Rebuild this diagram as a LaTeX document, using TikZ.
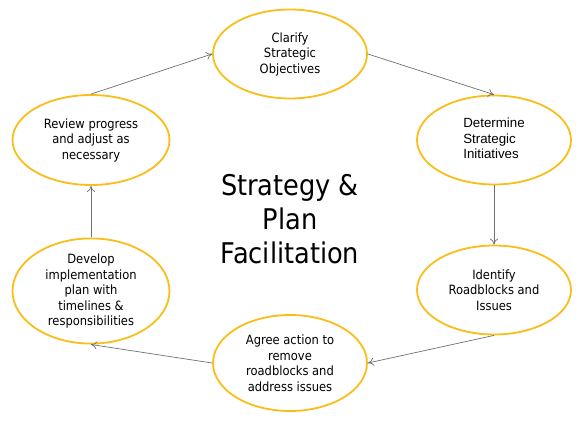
\documentclass[tikz,border=0pt]{standalone}
\usepackage{fontspec}
\setmainfont{DejaVu Sans Condensed}
\newfontfamily\arialf{Liberation Sans}
\newfontfamily\bigf{DejaVu Sans Condensed}
\usetikzlibrary{shapes.geometric,arrows.meta}
\definecolor{ring}{HTML}{F9BE1A}
\definecolor{conn}{HTML}{707070}
\begin{document}
\begin{tikzpicture}[x=1pt,y=-1pt,
  stage/.style={ellipse,draw=ring,line width=1.8pt,fill=white,minimum width=154pt,minimum height=89pt,inner sep=0pt,font=\fontsize{12.8}{15.5}\selectfont,align=center},
  link/.style={draw=conn,line width=0.7pt,-{To[length=6pt,width=8pt]}}]
\useasboundingbox (0,0) rectangle (580,435);
\node[stage] (clar) at (290,54) {Clarify\\Strategic\\Objectives};
\node[stage] (det) at (494,140) {\arialf\fontsize{13.3}{15.5}\selectfont\begin{tabular}{@{}l@{}}Determine\\Strategic\\Initiatives\end{tabular}};
\node[stage] (iden) at (494,290) {Identify\\Roadblocks and\\Issues};
\node[stage,minimum height=96pt] (agree) at (290,363) {Agree action to\\remove\\roadblocks and\\address issues};
\node[stage,minimum width=157pt,minimum height=92pt] (dev) at (91,291) {Develop\\implementation\\plan with\\timelines \&\\responsibilities};
\node[stage,minimum width=157pt,minimum height=90pt] (rev) at (91,140) {Review progress\\and adjust as\\necessary};
\node[font=\bigf\fontsize{28.5}{34}\selectfont,align=center] (title) at (290,219) {Strategy \&\\Plan\\Facilitation};
\draw[link] (clar.east) -- (det.north);
\draw[link] (det.south) -- (iden.north);
\draw[link] (iden.south) -- (agree.east);
\draw[link] (agree.west) -- (dev.south);
\draw[link] (dev.north) -- (rev.south);
\draw[link] (rev.north) -- (clar.west);
\end{tikzpicture}
\end{document}
